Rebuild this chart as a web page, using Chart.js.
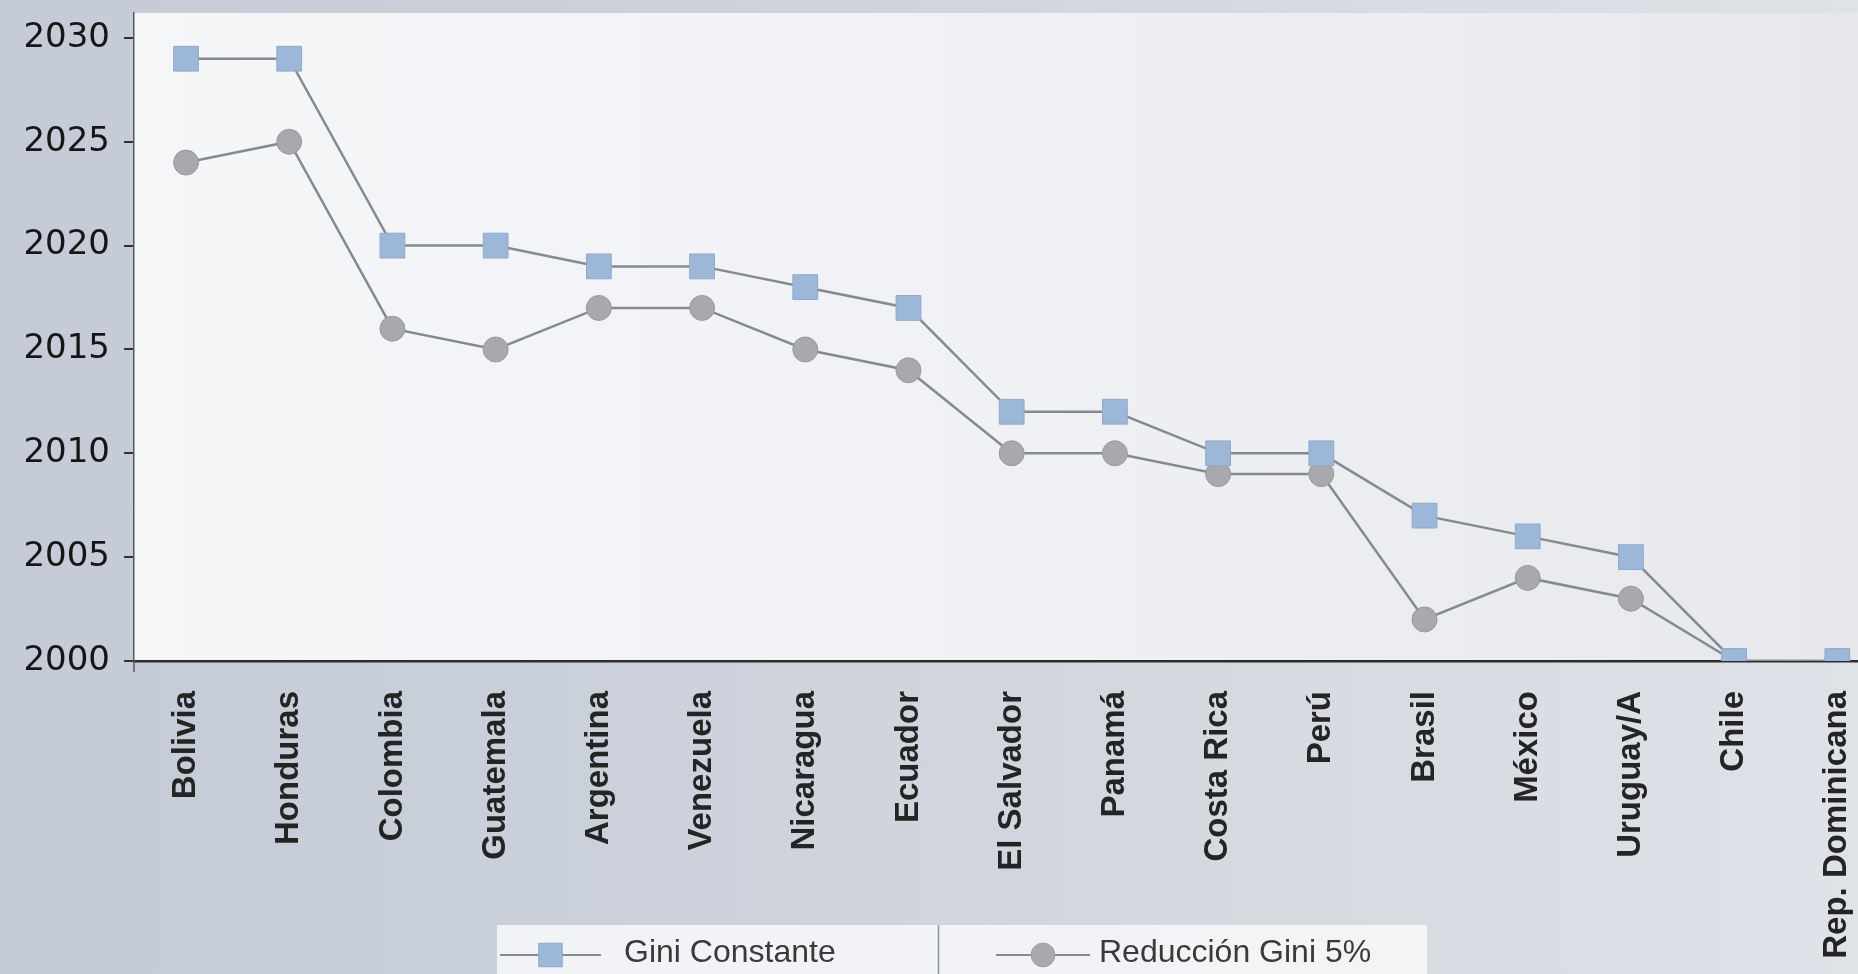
<!DOCTYPE html>
<html lang="es">
<head>
<meta charset="utf-8">
<title>Gini Constante / Reducción Gini 5%</title>
<script src="https://cdn.jsdelivr.net/npm/chart.js@4.4.1/dist/chart.umd.min.js"></script>
<style>
  html, body { margin: 0; padding: 0; width: 1858px; height: 974px; overflow: hidden; }
  body { background: linear-gradient(90deg, #c4cbd7 0%, #cad0da 30%, #d6dae1 70%, #dfe2e7 100%); }
  #wrap { position: absolute; left: 0; top: 0; width: 1858px; height: 974px; }
</style>
</head>
<body>
<div id="wrap"><canvas id="c" width="1858" height="974"></canvas></div>
<script>
// Countries along the horizontal axis
const countries = [
  'Bolivia', 'Honduras', 'Colombia', 'Guatemala', 'Argentina', 'Venezuela',
  'Nicaragua', 'Ecuador', 'El Salvador', 'Panamá', 'Costa Rica', 'Perú',
  'Brasil', 'México', 'Uruguay/A', 'Chile', 'Rep. Dominicana'
];

// Year reached under each scenario
const giniConstante = [2029, 2029, 2020, 2020, 2019, 2019, 2018, 2017, 2012, 2012, 2010, 2010, 2007, 2006, 2005, 2000, 2000];
const reduccionGini5 = [2024, 2025, 2016, 2015, 2017, 2017, 2015, 2014, 2010, 2010, 2009, 2009, 2002, 2004, 2003, 2000, 2000];

const seriesNames = ['Gini Constante', 'Reducción Gini 5%'];
const yearTicks = [2000, 2005, 2010, 2015, 2020, 2025, 2030];

// Light panel behind the plotting area
const areaFill = {
  id: 'areaFill',
  beforeDraw(chart) {
    const { ctx, chartArea: a } = chart;
    const g = ctx.createLinearGradient(a.left, 0, a.right, 0);
    g.addColorStop(0, '#f5f6f8');
    g.addColorStop(0.5, '#f0f1f4');
    g.addColorStop(1, '#e6e8ec');
    ctx.save();
    ctx.fillStyle = g;
    ctx.fillRect(a.left, a.top, a.right - a.left, a.bottom - a.top);
    ctx.restore();
  }
};

// Small extension of the vertical axis below the baseline
const axisStub = {
  id: 'axisStub',
  afterDraw(chart) {
    const { ctx, chartArea: a } = chart;
    ctx.save();
    ctx.strokeStyle = '#55595f';
    ctx.lineWidth = 1.5;
    ctx.beginPath();
    ctx.moveTo(a.left, a.bottom);
    ctx.lineTo(a.left, a.bottom + 11);
    ctx.stroke();
    ctx.restore();
  }
};

// Legend strip at the bottom, built from the dataset styles
const stripLegend = {
  id: 'stripLegend',
  afterDraw(chart) {
    const ctx = chart.ctx;
    ctx.save();
    ctx.fillStyle = 'rgba(245,246,248,0.9)';
    ctx.fillRect(497, 925, 930, 49);
    ctx.strokeStyle = '#8f949b';
    ctx.lineWidth = 1.5;
    ctx.beginPath();
    ctx.moveTo(938.5, 925);
    ctx.lineTo(938.5, 974);
    ctx.stroke();

    const slots = [
      { x0: 500, x1: 601, tx: 624 },
      { x0: 996, x1: 1090, tx: 1099 }
    ];
    const y = 955;
    chart.data.datasets.forEach((ds, i) => {
      const s = slots[i];
      ctx.strokeStyle = ds.borderColor;
      ctx.lineWidth = 2;
      ctx.beginPath();
      ctx.moveTo(s.x0, y);
      ctx.lineTo(s.x1, y);
      ctx.stroke();
      ctx.fillStyle = ds.pointBackgroundColor;
      ctx.strokeStyle = ds.pointBorderColor;
      ctx.lineWidth = ds.pointBorderWidth;
      Chart.helpers.drawPoint(ctx, {
        pointStyle: ds.pointStyle,
        radius: ds.pointRadius * 0.95,
        borderWidth: ds.pointBorderWidth,
        rotation: 0
      }, (s.x0 + s.x1) / 2, y);
      ctx.fillStyle = '#3a3a3a';
      ctx.font = '32px "Liberation Sans", Arial, sans-serif';
      ctx.textBaseline = 'middle';
      ctx.textAlign = 'left';
      ctx.fillText(ds.label, s.tx, y - 2);
    });
    ctx.restore();
  }
};

const toPoints = arr => arr.map((v, i) => ({ x: i, y: v }));

// Keep the plotting area flush with the canvas edges
const noEdgePadding = s => {
  s.paddingTop = 0; s.paddingBottom = 0; s.paddingLeft = 0; s.paddingRight = 0;
};

new Chart(document.getElementById('c'), {
  type: 'line',
  data: {
    datasets: [
      {
        label: seriesNames[0],
        data: toPoints(giniConstante),
        borderColor: '#868a90',
        borderWidth: 2.5,
        pointStyle: 'rect',
        pointRadius: 17.5,
        pointHoverRadius: 17.5,
        pointBackgroundColor: '#9db7d8',
        pointBorderColor: '#8ea8c9',
        pointBorderWidth: 1,
        tension: 0
      },
      {
        label: seriesNames[1],
        data: toPoints(reduccionGini5),
        borderColor: '#868a90',
        borderWidth: 2.5,
        pointStyle: 'circle',
        pointRadius: 12.5,
        pointHoverRadius: 12.5,
        pointBackgroundColor: '#a8a9ac',
        pointBorderColor: '#999a9e',
        pointBorderWidth: 1,
        tension: 0
      }
    ]
  },
  options: {
    responsive: false,
    animation: false,
    devicePixelRatio: 1,
    layout: { autoPadding: false, padding: { top: 13, right: 0, bottom: 0, left: 0 } },
    plugins: {
      legend: { display: false },
      tooltip: { enabled: false }
    },
    scales: {
      x: {
        type: 'linear',
        bounds: 'data',
        min: -0.504,
        max: 16.2,
        afterBuildTicks: s => { s.ticks = countries.map((_, i) => ({ value: i })); },
        afterFit: s => { s.height = 313; noEdgePadding(s); },
        grid: { display: false, drawTicks: false },
        border: { display: true, color: '#2d2d2d', width: 2.5 },
        ticks: {
          autoSkip: false,
          minRotation: 90,
          maxRotation: 90,
          padding: 30,
          color: '#242424',
          font: { family: '"Liberation Sans", Arial, sans-serif', size: 33, weight: 'bold' },
          callback: v => countries[Math.round(v)]
        }
      },
      y: {
        type: 'linear',
        bounds: 'data',
        min: 2000,
        max: 2031.2,
        afterBuildTicks: s => { s.ticks = yearTicks.map(v => ({ value: v })); },
        afterFit: s => { s.width = 134; noEdgePadding(s); },
        grid: { display: true, drawOnChartArea: false, drawTicks: true, tickLength: 10, color: '#333', lineWidth: 2 },
        border: { display: true, color: '#55595f', width: 1.5 },
        ticks: {
          padding: 14,
          color: '#161616',
          font: { family: '"DejaVu Sans", sans-serif', size: 34 },
          callback: v => String(v)
        }
      }
    }
  },
  plugins: [areaFill, axisStub, stripLegend]
});
</script>
</body>
</html>
